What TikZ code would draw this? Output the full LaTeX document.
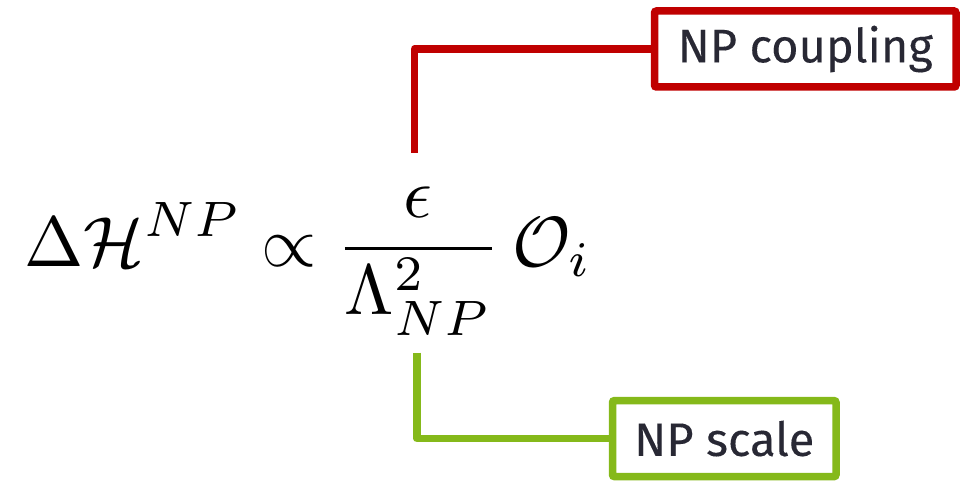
\documentclass[tikz,border=0pt]{standalone}
\usepackage{graphicx}
\usepackage{fontspec}
\newfontfamily\labelfont{Fira Sans}[FakeBold=0.15]
\definecolor{npred}{RGB}{192,0,0}
\definecolor{npgreen}{RGB}{133,185,26}
\definecolor{labeltext}{RGB}{40,40,52}
\begin{document}
\begin{tikzpicture}[x=1pt,y=-1pt,
  labelbox/.style={draw,line width=7.5pt,rounded corners=2pt,fill=white,
    minimum height=76pt,inner sep=0pt,
    font=\labelfont\fontsize{47}{52}\selectfont,text=labeltext},
  link/.style={line width=7.5pt,line join=round}]
\useasboundingbox (0,0) rectangle (961,481);
\node[anchor=base west,inner sep=0pt] (eq) at (24,266)
  {\scalebox{7.1}{$\displaystyle \Delta\mathcal{H}^{NP}\propto\frac{\epsilon}{\Lambda^2_{NP}}\,\mathcal{O}_i$}};
\node[labelbox,draw=npred,minimum width=301.5pt] (coup) at (805.25,49) {NP coupling};
\node[labelbox,draw=npgreen,minimum width=223.5pt] (scale) at (724.25,438.6) {NP scale};
\coordinate (rc) at (414.5,153);
\coordinate (gc) at (417,352.7);
\draw[link,npred] (rc) |- (coup.west);
\draw[link,npgreen] (gc) |- (scale.west);
\end{tikzpicture}
\end{document}
